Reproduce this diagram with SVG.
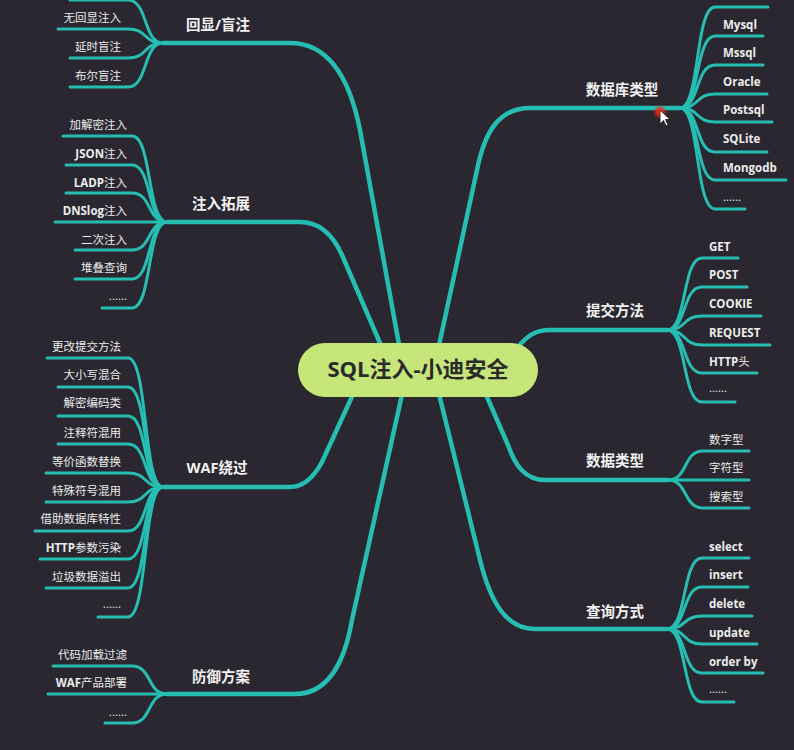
<svg xmlns="http://www.w3.org/2000/svg" width="794" height="750" viewBox="0 0 794 750">
<defs>
<style>
.bg{fill:#2a2730}
.ln{fill:none;stroke:#26bdb2;stroke-linecap:round;stroke-linejoin:round}
.main{stroke-width:4.5}
.sub{stroke-width:3}
.topic{font-family:"Open Sans","Noto Sans CJK SC",sans-serif;font-size:14.5px;font-weight:bold;fill:#f2f2f2;text-anchor:middle}
.lab{font-family:"Open Sans","Noto Sans CJK SC",sans-serif;font-size:11.5px;fill:#ececec}
.en{font-weight:bold;font-size:11.5px}
.l{text-anchor:end}
.root{font-family:"Open Sans","Noto Sans CJK SC",sans-serif;font-size:22px;font-weight:bold;fill:#2a2a2a;text-anchor:middle}
</style>
<radialGradient id="glow">
<stop offset="0" stop-color="#ff3a20"/>
<stop offset="0.5" stop-color="#ff2010" stop-opacity="0.8"/>
<stop offset="1" stop-color="#ff2010" stop-opacity="0"/>
</radialGradient>
</defs>
<rect class="bg" x="0" y="0" width="794" height="750"/>

<g id="connectors">
<path class="ln main" d="M 163 43 L 290 43 C 330 43 350 80 360 130 L 400 350"/>
<path class="ln main" d="M 167 222 L 300 222 C 320 222 333 235 342 255 L 383 350"/>
<path class="ln main" d="M 163 487 L 290 487 C 305 487 315 475 322 462 L 355 390"/>
<path class="ln main" d="M 167 694 L 295 694 C 330 694 345 660 352 620 L 403 390"/>
<path class="ln main" d="M 680 108 L 530 108 C 500 108 485 130 477 170 L 438 350"/>
<path class="ln main" d="M 667 330 L 550 330 C 535 330 528 335 515 350"/>
<path class="ln main" d="M 668 480 L 545 480 C 525 480 515 465 508 445 L 484 390"/>
<path class="ln main" d="M 667 629 L 535 629 C 505 629 490 600 480 560 L 438 390"/>
<path class="ln sub" d="M 70 0 L 128 0 C 148 0 143 43 163 43"/>
<path class="ln sub" d="M 58 29 L 128 29 C 148 29 143 43 163 43"/>
<path class="ln sub" d="M 70 58 L 128 58 C 148 58 143 43 163 43"/>
<path class="ln sub" d="M 70 87 L 128 87 C 148 87 143 43 163 43"/>
<path class="ln sub" d="M 63 136 L 132 136 C 152 136 147 222 167 222"/>
<path class="ln sub" d="M 66 165 L 132 165 C 152 165 147 222 167 222"/>
<path class="ln sub" d="M 66 193 L 132 193 C 152 193 147 222 167 222"/>
<path class="ln sub" d="M 55 222 L 167 222"/>
<path class="ln sub" d="M 75 250 L 132 250 C 152 250 147 222 167 222"/>
<path class="ln sub" d="M 75 279 L 132 279 C 152 279 147 222 167 222"/>
<path class="ln sub" d="M 102 308 L 132 308 C 152 308 147 222 167 222"/>
<path class="ln sub" d="M 47 358 L 128 358 C 148 358 143 487 163 487"/>
<path class="ln sub" d="M 58 387 L 128 387 C 148 387 143 487 163 487"/>
<path class="ln sub" d="M 58 416 L 128 416 C 148 416 143 487 163 487"/>
<path class="ln sub" d="M 58 444 L 128 444 C 148 444 143 487 163 487"/>
<path class="ln sub" d="M 46 473 L 128 473 C 148 473 143 487 163 487"/>
<path class="ln sub" d="M 46 502 L 128 502 C 148 502 143 487 163 487"/>
<path class="ln sub" d="M 35 531 L 128 531 C 148 531 143 487 163 487"/>
<path class="ln sub" d="M 40 559 L 128 559 C 148 559 143 487 163 487"/>
<path class="ln sub" d="M 46 588 L 128 588 C 148 588 143 487 163 487"/>
<path class="ln sub" d="M 98 617 L 128 617 C 148 617 143 487 163 487"/>
<path class="ln sub" d="M 53 666 L 132 666 C 152 666 147 694 167 694"/>
<path class="ln sub" d="M 48 694 L 167 694"/>
<path class="ln sub" d="M 105 723 L 132 723 C 152 723 147 694 167 694"/>
<path class="ln sub" d="M 680 108 C 700 108 695 7 715 7 L 768 7"/>
<path class="ln sub" d="M 680 108 C 700 108 695 36 715 36 L 763 36"/>
<path class="ln sub" d="M 680 108 C 700 108 695 65 715 65 L 763 65"/>
<path class="ln sub" d="M 680 108 C 700 108 695 94 715 94 L 767 94"/>
<path class="ln sub" d="M 680 108 C 700 108 695 122 715 122 L 772 122"/>
<path class="ln sub" d="M 680 108 C 700 108 695 152 715 152 L 767 152"/>
<path class="ln sub" d="M 680 108 C 700 108 695 180 715 180 L 786 180"/>
<path class="ln sub" d="M 680 108 C 700 108 695 209 715 209 L 745 209"/>
<path class="ln sub" d="M 667 330 C 687 330 682 258 702 258 L 738 258"/>
<path class="ln sub" d="M 667 330 C 687 330 682 287 702 287 L 747 287"/>
<path class="ln sub" d="M 667 330 C 687 330 682 316 702 316 L 761 316"/>
<path class="ln sub" d="M 667 330 C 687 330 682 345 702 345 L 770 345"/>
<path class="ln sub" d="M 667 330 C 687 330 682 373 702 373 L 757 373"/>
<path class="ln sub" d="M 667 330 C 687 330 682 402 702 402 L 735 402"/>
<path class="ln sub" d="M 668 480 C 688 480 683 451 703 451 L 749 451"/>
<path class="ln sub" d="M 668 480 L 749 480"/>
<path class="ln sub" d="M 668 480 C 688 480 683 508 703 508 L 749 508"/>
<path class="ln sub" d="M 667 629 C 687 629 682 558 702 558 L 749 558"/>
<path class="ln sub" d="M 667 629 C 687 629 682 587 702 587 L 748 587"/>
<path class="ln sub" d="M 667 629 C 687 629 682 616 702 616 L 752 616"/>
<path class="ln sub" d="M 667 629 C 687 629 682 644 702 644 L 757 644"/>
<path class="ln sub" d="M 667 629 C 687 629 682 673 702 673 L 763 673"/>
<path class="ln sub" d="M 667 629 C 687 629 682 702 702 702 L 734 702"/>
</g>

<g id="root">
<rect x="298" y="343" width="240" height="54" rx="27" fill="#c6e67a"/>
<text class="root" x="418" y="377">SQL注入-小迪安全</text>
</g>

<g id="topic-huixian">
<text class="topic" x="218" y="30">回显/盲注</text>
<text class="lab l" x="121" y="22">无回显注入</text>
<text class="lab l" x="121" y="51">延时盲注</text>
<text class="lab l" x="121" y="80">布尔盲注</text>
</g>

<g id="topic-zhuru">
<text class="topic" x="221" y="209">注入拓展</text>
<text class="lab l" x="127" y="129">加解密注入</text>
<text class="lab l" x="127" y="158"><tspan class="en">JSON</tspan>注入</text>
<text class="lab l" x="127" y="187"><tspan class="en">LADP</tspan>注入</text>
<text class="lab l" x="127" y="215"><tspan class="en">DNSlog</tspan>注入</text>
<text class="lab l" x="127" y="244">二次注入</text>
<text class="lab l" x="127" y="272">堆叠查询</text>
<text class="lab l" x="127" y="300">......</text>
</g>

<g id="topic-waf">
<text class="topic" x="217" y="473">WAF绕过</text>
<text class="lab l" x="121" y="351">更改提交方法</text>
<text class="lab l" x="121" y="379">大小写混合</text>
<text class="lab l" x="121" y="407">解密编码类</text>
<text class="lab l" x="121" y="437">注释符混用</text>
<text class="lab l" x="121" y="466">等价函数替换</text>
<text class="lab l" x="121" y="495">特殊符号混用</text>
<text class="lab l" x="121" y="523">借助数据库特性</text>
<text class="lab l" x="121" y="552"><tspan class="en">HTTP</tspan>参数污染</text>
<text class="lab l" x="121" y="581">垃圾数据溢出</text>
<text class="lab l" x="121" y="608">......</text>
</g>

<g id="topic-fangyu">
<text class="topic" x="221" y="682">防御方案</text>
<text class="lab l" x="127" y="659">代码加载过滤</text>
<text class="lab l" x="127" y="687"><tspan class="en">WAF</tspan>产品部署</text>
<text class="lab l" x="127" y="716">......</text>
</g>

<g id="topic-dbtype">
<text class="topic" x="622" y="95">数据库类型</text>
<text class="lab en" x="723" y="29">Mysql</text>
<text class="lab en" x="723" y="57">Mssql</text>
<text class="lab en" x="723" y="86">Oracle</text>
<text class="lab en" x="723" y="114">Postsql</text>
<text class="lab en" x="723" y="143">SQLite</text>
<text class="lab en" x="723" y="172">Mongodb</text>
<text class="lab" x="723" y="201">......</text>
</g>

<g id="topic-method">
<text class="topic" x="615" y="316">提交方法</text>
<text class="lab en" x="709" y="251">GET</text>
<text class="lab en" x="709" y="279">POST</text>
<text class="lab en" x="709" y="308">COOKIE</text>
<text class="lab en" x="709" y="337">REQUEST</text>
<text class="lab" x="709" y="366"><tspan class="en">HTTP</tspan>头</text>
<text class="lab" x="709" y="392">......</text>
</g>

<g id="topic-datatype">
<text class="topic" x="615" y="466">数据类型</text>
<text class="lab" x="709" y="444">数字型</text>
<text class="lab" x="709" y="472">字符型</text>
<text class="lab" x="709" y="501">搜索型</text>
</g>

<g id="topic-query">
<text class="topic" x="615" y="617">查询方式</text>
<text class="lab en" x="709" y="551">select</text>
<text class="lab en" x="709" y="579">insert</text>
<text class="lab en" x="709" y="608">delete</text>
<text class="lab en" x="709" y="637">update</text>
<text class="lab en" x="709" y="666">order by</text>
<text class="lab" x="709" y="693">......</text>
</g>

<g id="cursor">
<circle cx="660" cy="112" r="7" fill="url(#glow)"/>
<path d="M 660 110 L 660 124 L 663.5 120.5 L 666 126 L 668 125 L 665.5 119.5 L 670 119.5 Z" fill="#ffffff" stroke="#111" stroke-width="0.8"/>
</g>
</svg>
